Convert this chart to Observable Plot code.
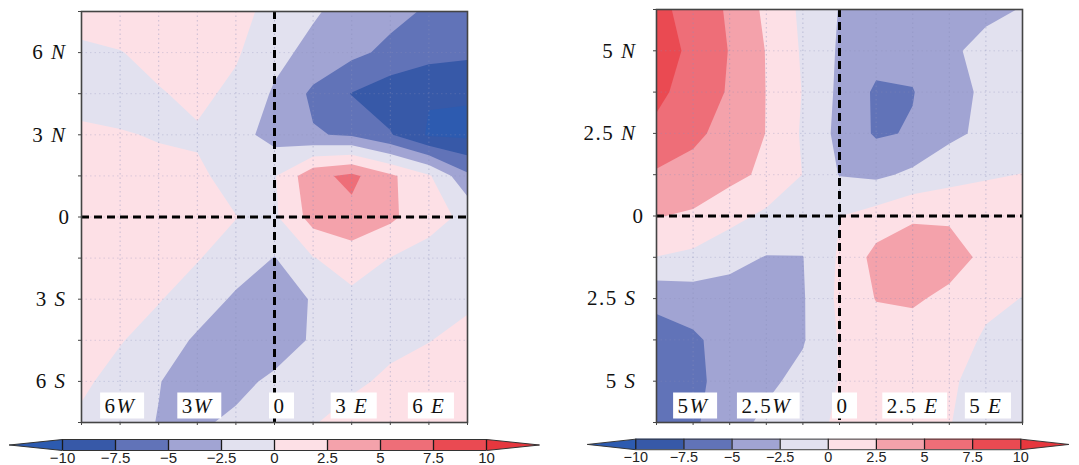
<!DOCTYPE html>
<html><head><meta charset="utf-8">
<script src="https://cdn.jsdelivr.net/npm/d3@7"></script>
<script src="https://cdn.jsdelivr.net/npm/@observablehq/plot@0.6"></script>
<style>
body{margin:0;background:#fff;}
#root{position:relative;width:1079px;height:465px;overflow:hidden;background:#fff;}
.p{position:absolute;}
</style></head><body><div id="root"></div>
<script>
// ---------- data ----------
const bandBounds = [-10, -7.5, -5, -2.5, 0, 2.5, 5, 7.5, 10];
const bandColors = ["#2d5bb0", "#3759a8", "#6173b8", "#a1a4d3", "#e2e1ef", "#fde0e6", "#f4a2ab", "#ee6e78", "#ea4a52", "#e6373e"];
const cbLabels = ["−10", "−7.5", "−5", "−2.5", "0", "2.5", "5", "7.5", "10"];

// left panel: grid nodes every 1.5 degrees, rows from 7.5N (top) to 7.5S
const leftTicks = [-7.5, -6, -4.5, -3, -1.5, 0, 1.5, 3, 4.5, 6, 7.5];
const leftXLabelVals = [-6, -3, 0, 3, 6];
const leftXLabels = ["6W", "3W", "0", "3 E", "6 E"];
const leftYLabelVals = [6, 3, 0, -3, -6];
const leftYLabels = ["6 N", "3 N", "0", "3 S", "6 S"];
const leftGrid = [
  [1.0, 1.5, 1.8, 1.8, 1.0, -1.0, -2.2, -3.5, -4.3, -5.3, -6.0],
  [-0.45, -0.1, 0.8, 1.2, 0.3, -1.8, -3.2, -4.4, -5.6, -6.6, -7.0],
  [-1.0, -1.2, -0.2, 0.6, -0.6, -2.8, -5.5, -7.6, -9.0, -9.8, -9.8],
  [0.5, 0.2, -0.2, -0.3, -1.5, -3.5, -4.8, -5.3, -7.3, -10.3, -10.5],
  [1.2, 1.2, 0.8, 0.4, -0.8, -0.2, 4.3, 5.6, 3.0, 0.3, -4.5],
  [1.5, 1.5, 1.2, 0.8, 0.05, -0.4, 3.5, 4.3, 3.0, 0.8, -0.5],
  [1.5, 1.4, 1.0, 0.1, -0.8, -2.6, -0.1, 1.2, -0.05, -0.8, -1.0],
  [1.6, 1.2, 0.1, -0.8, -3.0, -3.8, -2.3, -0.6, -0.5, -0.4, -0.3],
  [1.0, 0.1, -0.7, -3.0, -4.0, -3.8, -2.2, -0.8, -0.4, -0.05, 0.5],
  [0.3, -0.6, -2.4, -3.8, -3.2, -2.0, -1.0, -0.3, 0.3, 0.8, 1.2],
  [-0.3, -1.5, -2.6, -2.9, -2.0, -1.0, -0.1, 0.6, 1.0, 1.3, 1.5]
];

// right panel: grid nodes every 1.25 degrees, rows from 6.25N (top) to 6.25S
const rightTicks = [-6.25, -5, -3.75, -2.5, -1.25, 0, 1.25, 2.5, 3.75, 5, 6.25];
const rightXLabelVals = [-5, -2.5, 0, 2.5, 5];
const rightXLabels = ["5W", "2.5W", "0", "2.5 E", "5 E"];
const rightYLabelVals = [5, 2.5, 0, -2.5, -5];
const rightYLabels = ["5 N", "2.5 N", "0", "2.5 S", "5 S"];
const rightGrid = [
  [8.0, 6.8, 4.6, 2.0, -0.5, -2.6, -3.5, -3.8, -3.5, -3.0, -2.4],
  [9.0, 6.8, 4.9, 2.4, -0.3, -2.8, -4.0, -4.3, -2.9, -1.8, -1.5],
  [8.2, 6.2, 4.8, 2.45, -0.1, -3.0, -5.4, -5.1, -3.3, -2.1, -1.5],
  [6.8, 5.6, 4.0, 2.45, -0.3, -3.2, -5.3, -4.8, -3.0, -2.0, -1.2],
  [4.7, 4.0, 3.2, 2.0, -0.05, -2.6, -3.0, -2.0, -1.0, -0.2, 0.05],
  [2.6, 2.2, 0.8, -0.5, -1.2, -0.05, 1.0, 2.2, 2.2, 1.2, 0.8],
  [-0.05, -0.6, -1.8, -2.6, -2.55, 0.3, 3.3, 3.8, 3.4, 2.0, 0.8],
  [-4.4, -3.8, -3.5, -3.6, -2.7, 0.5, 2.6, 2.8, 2.0, 0.5, -0.05],
  [-6.0, -5.4, -4.0, -3.8, -2.7, 0.2, 1.3, 1.5, 1.0, -0.3, -0.8],
  [-6.2, -5.6, -4.0, -3.0, -1.8, 0.1, 0.8, 0.8, 0.3, -0.8, -1.2],
  [-6.0, -5.4, -3.4, -2.0, -1.0, 0.4, 0.6, 0.5, 0.05, -0.6, -0.8]
];

// ---------- helpers ----------
const LS = 1.5;             // letter spacing of the serif labels
const FS = 21;              // serif label font size
const FONT = "Liberation Serif";
const measureCtx = document.createElement("canvas").getContext("2d");
function measure(s, italic) {
  measureCtx.font = (italic ? "italic " : "") + FS + "px '" + FONT + "'";
  return s ? measureCtx.measureText(s).width + LS * s.length : 0;
}
// split "2.5 N" -> number "2.5", gap, italic letter "N"
function pieces(s) {
  const m = s.match(/^([^A-Za-z]*?)(\s*)([A-Za-z]*)$/);
  const num = m[1], gap = m[2] ? measure(" ", false) : 0, let_ = m[3];
  const wNum = measure(num, false), wLet = measure(let_, true);
  return {num, let: let_, wNum, gap, wLet, w: wNum + gap + wLet};
}

function panel(cfg) {
  const {grid, ticks, xLabVals, xLabs, yLabVals, yLabs, width, height, mL, mR, mT, mB, zeroShift, yDx, yDx0} = cfg;
  const ext = ticks[ticks.length - 1];
  const step = ticks[1] - ticks[0];
  const n = ticks.length;
  const values = grid.flat();
  const pxX = (width - mL - mR) / (2 * ext);
  const pxY = (height - mT - mB) / (2 * ext);

  // bottom (longitude) labels, in white boxes inside the frame
  const xl = xLabVals.map((v, i) => {
    const p = pieces(xLabs[i]);
    const cx = v + (xLabs[i] === "0" ? zeroShift / pxX : 0);
    const start = cx - (p.w / 2) / pxX;
    return {
      ...p, cx,
      xNum: start, xLet: start + (p.wNum + p.gap) / pxX,
      x1: cx - (p.w / 2 + 4) / pxX, x2: cx + (p.w / 2 + 9) / pxX,
      y1: -ext + 3.5 / pxY, y2: -ext + 29.5 / pxY
    };
  });
  // left (latitude) labels, right-aligned outside the frame
  const yl = yLabVals.map((v, i) => {
    const p = pieces(yLabs[i]);
    const right = p.let ? yDx : yDx0;
    return {
      ...p, v,
      xLet: -ext + right / pxX,
      xNum: -ext + (right - (p.let ? p.wLet + p.gap : 0)) / pxX
    };
  });
  const serif = {fontSize: FS, fontFamily: FONT, fill: "#111", lineAnchor: "middle"};
  const inner = ticks.slice(1, -1);
  const svg = Plot.plot({
    width, height, marginLeft: mL, marginRight: mR, marginTop: mT, marginBottom: mB,
    style: {background: "transparent", overflow: "visible"},
    x: {domain: [-ext, ext], axis: null},
    y: {domain: [-ext, ext], axis: null},
    color: {type: "threshold", domain: bandBounds, range: bandColors},
    marks: [
      Plot.contour(values, {
        width: n, height: n,
        x1: -ext - step / 2, x2: ext + step / 2,
        y1: ext + step / 2, y2: -ext - step / 2,
        fill: Plot.identity, thresholds: [-100, ...bandBounds], clip: true
      }),
      Plot.ruleX(inner, {stroke: "#8a8fba", strokeOpacity: 0.45, strokeDasharray: "1.5,3"}),
      Plot.ruleY(inner, {stroke: "#8a8fba", strokeOpacity: 0.3, strokeDasharray: "1.5,3"}),
      Plot.ruleX([0], {stroke: "#000", strokeWidth: 3, strokeDasharray: "8,5"}),
      Plot.ruleY([0], {stroke: "#000", strokeWidth: 3, strokeDasharray: "8,5"}),
      Plot.rect(xl, {x1: "x1", x2: "x2", y1: "y1", y2: "y2", fill: "white"}),
      Plot.text(xl, {x: "xNum", text: "num", frameAnchor: "bottom", dy: -16.5, textAnchor: "start", ...serif}),
      Plot.text(xl.filter(d => d.let), {x: "xLet", text: "let", frameAnchor: "bottom", dy: -16.5, textAnchor: "start", fontStyle: "italic", ...serif}),
      Plot.text(yl, {x: "xNum", y: "v", text: "num", textAnchor: "end", ...serif}),
      Plot.text(yl.filter(d => d.let), {x: "xLet", y: "v", text: "let", textAnchor: "end", fontStyle: "italic", ...serif}),
      Plot.axisX({ticks, tickSize: 3, tickFormat: () => "", anchor: "bottom", stroke: "#444", label: null}),
      Plot.axisY({ticks, tickSize: 3, tickFormat: () => "", anchor: "left", stroke: "#444", label: null}),
      Plot.frame({stroke: "#444", strokeWidth: 1.6})
    ]
  });
  svg.style.letterSpacing = LS + "px";
  return svg;
}

function colorbar(width, mL, mR) {
  const bands = bandBounds.slice(0, -1).map((lo, i) => ({lo, hi: bandBounds[i + 1]}));
  const outline = [[-12.5, 0.5], [-10, 1], [10, 1], [12.5, 0.5], [10, 0], [-10, 0], [-12.5, 0.5]];
  return Plot.plot({
    width, height: 35, marginLeft: mL, marginRight: mR, marginTop: 9, marginBottom: 15,
    style: {background: "transparent", overflow: "visible"},
    x: {domain: [-12.5, 12.5], axis: null},
    y: {domain: [0, 1], axis: null},
    color: {type: "threshold", domain: bandBounds, range: bandColors},
    marks: [
      Plot.rect(bands, {x1: "lo", x2: "hi", y1: 0, y2: 1, fill: "lo"}),
      Plot.line([[-12.5, 0.5], [-10, 1], [-10, 0]], {fill: bandColors[0], stroke: "none"}),
      Plot.line([[12.5, 0.5], [10, 1], [10, 0]], {fill: bandColors[bandColors.length - 1], stroke: "none"}),
      Plot.ruleX(bandBounds, {y1: 0, y2: 1, stroke: "#1a1a1a", strokeWidth: 1.3}),
      Plot.line(outline, {stroke: "#333", strokeWidth: 1}),
      Plot.text(bandBounds, {x: d => d, y: 0, text: (d, i) => cbLabels[i], dy: 7.5, lineAnchor: "middle",
        fontSize: 15, fontFamily: "Liberation Sans", fill: "#222"})
    ]
  });
}

// ---------- layout ----------
const root = document.getElementById("root");
function place(node, left, top) {
  const d = document.createElement("div");
  d.className = "p";
  d.style.left = left + "px";
  d.style.top = top + "px";
  d.appendChild(node);
  root.appendChild(d);
}

place(panel({
  grid: leftGrid, ticks: leftTicks, xLabVals: leftXLabelVals, xLabs: leftXLabels,
  yLabVals: leftYLabelVals, yLabs: leftYLabels,
  width: 540, height: 430, mL: 81, mR: 73, mT: 11, mB: 8, zeroShift: 5, yDx: -15, yDx0: -11
}), 0, 0);
place(colorbar(540, 9, 1), 0, 430);

place(panel({
  grid: rightGrid, ticks: rightTicks, xLabVals: rightXLabelVals, xLabs: rightXLabels,
  yLabVals: rightYLabelVals, yLabs: rightYLabels,
  width: 539, height: 430, mL: 116, mR: 57, mT: 9, mB: 8, zeroShift: 3, yDx: -20, yDx0: -12
}), 540, 0);
place(colorbar(560, 49, 11), 540, 430);
</script>
</body></html>
